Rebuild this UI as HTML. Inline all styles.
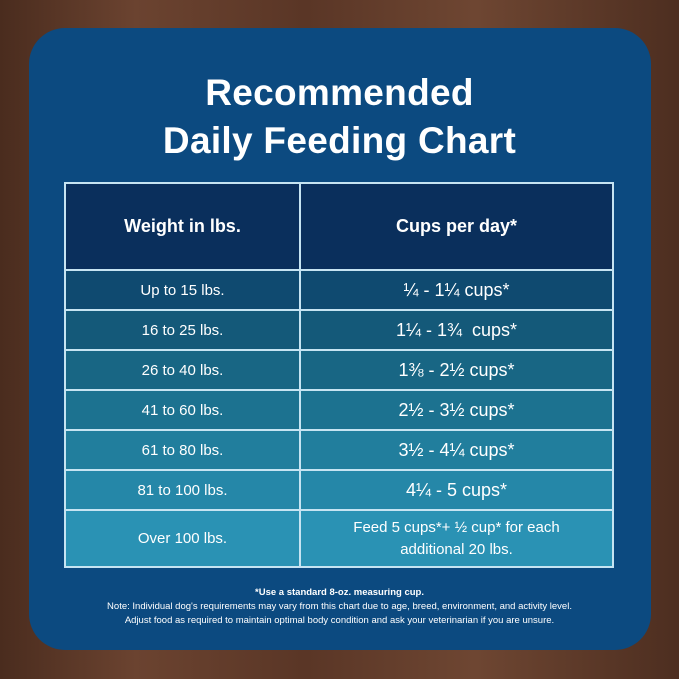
<!DOCTYPE html>
<html><head><style>
html,body{margin:0;padding:0}
body{width:679px;height:679px;position:relative;overflow:hidden;background:linear-gradient(90deg,#4a2c1e,#6b4330 20%,#5a3626 45%,#6e4632 70%,#4d2e20);font-family:"Liberation Sans",sans-serif;color:#fff}
.card{position:absolute;left:29px;top:28px;width:622px;height:622px;border-radius:36px;background:#0c4a80}
.title{position:absolute;left:0;width:679px;text-align:center;font-weight:bold;font-size:37px;letter-spacing:0.3px}
table{position:absolute;left:64px;top:182px;width:550px;border-collapse:collapse}
td{border:2px solid #c6e4f2;text-align:center;font-size:15px;padding:0}
.c2{font-size:18px}
.note{position:absolute;left:0;width:679px;text-align:center;font-size:9.5px;line-height:14px}
</style></head><body>
<div class="card"></div>
<div class="title" style="top:72px">Recommended</div>
<div class="title" style="top:120px">Daily Feeding Chart</div>
<table>
<tr style="height:87px;background:#0a2f5c"><td style="width:233px;font-weight:bold;font-size:18px">Weight in lbs.</td><td style="font-weight:bold;font-size:18px">Cups per day*</td></tr>
<tr style="height:40px;background:#0f4a70"><td>Up to 15 lbs.</td><td class="c2">¼ - 1¼ cups*</td></tr>
<tr style="height:40px;background:#145979"><td>16 to 25 lbs.</td><td class="c2">1¼ - 1¾ &nbsp;cups*</td></tr>
<tr style="height:40px;background:#186684"><td>26 to 40 lbs.</td><td class="c2">1⅜ - 2½ cups*</td></tr>
<tr style="height:40px;background:#1c7290"><td>41 to 60 lbs.</td><td class="c2">2½ - 3½ cups*</td></tr>
<tr style="height:40px;background:#217e9d"><td>61 to 80 lbs.</td><td class="c2">3½ - 4¼ cups*</td></tr>
<tr style="height:40px;background:#2587a8"><td>81 to 100 lbs.</td><td class="c2">4¼ - 5 cups*</td></tr>
<tr style="height:57px;background:#2a92b4"><td>Over 100 lbs.</td><td style="font-size:15px;line-height:22px">Feed 5 cups*+ ½ cup* for each<br>additional 20 lbs.</td></tr>
</table>
<div class="note" style="top:586px;font-weight:bold">*Use a standard 8-oz. measuring cup.</div>
<div class="note" style="top:600px">Note: Individual dog's requirements may vary from this chart due to age, breed, environment, and activity level.</div>
<div class="note" style="top:614px">Adjust food as required to maintain optimal body condition and ask your veterinarian if you are unsure.</div>
</body></html>
